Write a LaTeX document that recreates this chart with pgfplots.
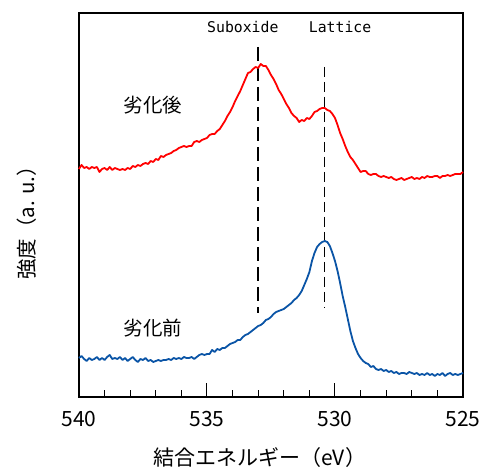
\documentclass[border=0pt]{standalone}
\usepackage{pgfplots}
\pgfplotsset{compat=1.18}
\usepackage{fontspec}
\setmainfont{Noto Sans CJK JP}
\newfontfamily\monofont{DejaVu Sans Mono}
\definecolor{redc}{RGB}{255,0,0}
\definecolor{bluec}{RGB}{10,84,166}
\begin{document}
\begin{tikzpicture}
\begin{axis}[
  scale only axis, width=384pt, height=384pt,
  xmin=525, xmax=540, ymin=0, ymax=384,
  x dir=reverse,
  axis line style={line width=1.3pt},
  xtick={525,530,535,540},
  minor x tick num=4,
  ytick=\empty,
  tick align=inside,
  xtick pos=bottom,
  major tick length=14pt, minor tick length=7pt,
  tick style={line width=1pt, black},
  /pgf/number format/assume math mode=true,
  /pgf/number format/1000 sep={},
  xticklabel style={font=\fontsize{21}{21}\selectfont, yshift=-11pt},
  xlabel={結合エネルギー（eV）},
  xlabel style={font=\fontsize{21}{21}\selectfont, at={(rel axis cs:0.471,0)}, anchor=center, yshift=-61pt},
  ylabel={強度（a. u.）},
  ylabel style={font=\fontsize{20.5}{21}\selectfont, at={(axis description cs:-0.135,0.466)}, anchor=center},
  clip=false,
]
% reference dashed lines
\addplot[black, line width=2.6pt, dash pattern=on 14pt off 6pt] coordinates {(533.0,350) (533.0,84)};
\addplot[black, line width=1pt, dash pattern=on 10pt off 5pt] coordinates {(530.4,330) (530.4,89)};
% after degradation
\addplot[redc, line width=1.8pt, line join=round] coordinates {
(540.0,228)(539.9,232)(539.8,229)(539.7,230)(539.6,228)(539.5,230)(539.4,229)(539.3,230)(539.2,225)(539.1,228)
(539.0,229)(538.9,227)(538.8,230)(538.7,227)(538.6,229)(538.5,228)(538.4,227)(538.3,228)(538.2,227)(538.1,229)
(538.0,228)(537.9,231)(537.8,230)(537.7,232)(537.6,231)(537.5,233)(537.4,234)(537.3,233)(537.2,236)(537.1,235)
(537.0,238)(536.9,237)(536.8,241)(536.7,240)(536.6,242)(536.5,243)(536.4,244)(536.3,246)(536.2,247)(536.1,249)
(536.0,250)(535.9,251)(535.8,250)(535.7,251)(535.6,251)(535.5,255)(535.4,256)(535.3,255)(535.2,257)(535.1,258)
(535.0,259)(534.9,262)(534.8,263)(534.7,263)(534.6,266)(534.5,268)(534.4,272)(534.3,276)(534.2,281)(534.1,285)
(534.0,290)(533.9,296)(533.8,301)(533.7,306)(533.6,312)(533.5,318)(533.4,324)(533.3,325)(533.2,328)(533.1,330)
(533.0,329)(532.9,333)(532.8,331)(532.7,331)(532.6,327)(532.5,322)(532.4,318)(532.3,313)(532.2,307)(532.1,303)
(532.0,298)(531.9,293)(531.8,289)(531.7,284)(531.6,281)(531.5,279)(531.4,275)(531.3,277)(531.2,276)(531.1,279)
(531.0,278)(530.9,281)(530.8,285)(530.7,286)(530.6,288)(530.5,289)(530.4,289)(530.3,287)(530.2,286)(530.1,283)
(530.0,279)(529.9,272)(529.8,264)(529.7,258)(529.6,251)(529.5,245)(529.4,240)(529.3,237)(529.2,233)(529.1,229)
(529.0,225)(528.9,226)(528.8,226)(528.7,223)(528.6,222)(528.5,223)(528.4,223)(528.3,221)(528.2,220)(528.1,221)
(528.0,220)(527.9,219)(527.8,220)(527.7,218)(527.6,217)(527.5,218)(527.4,219)(527.3,217)(527.2,218)(527.1,219)
(527.0,220)(526.9,218)(526.8,219)(526.7,218)(526.6,220)(526.5,219)(526.4,221)(526.3,220)(526.2,220)(526.1,221)
(526.0,221)(525.9,219)(525.8,221)(525.7,221)(525.6,222)(525.5,221)(525.4,222)(525.3,223)(525.2,223)(525.1,223)
(525.0,225)};
% before degradation
\addplot[bluec, line width=1.8pt, line join=round] coordinates {
(540.0,39)(539.9,41)(539.8,38)(539.7,36)(539.6,39)(539.5,37)(539.4,38)(539.3,40)(539.2,37)(539.1,39)
(539.0,37)(538.9,40)(538.8,42)(538.7,38)(538.6,39)(538.5,38)(538.4,40)(538.3,37)(538.2,39)(538.1,36)
(538.0,38)(537.9,40)(537.8,37)(537.7,35)(537.6,38)(537.5,37)(537.4,39)(537.3,36)(537.2,37)(537.1,35)
(537.0,36)(536.9,37)(536.8,36)(536.7,37)(536.6,37)(536.5,38)(536.4,37)(536.3,39)(536.2,38)(536.1,39)
(536.0,38)(535.9,40)(535.8,39)(535.7,39)(535.6,40)(535.5,38)(535.4,40)(535.3,42)(535.2,43)(535.1,42)
(535.0,43)(534.9,43)(534.8,47)(534.7,45)(534.6,48)(534.5,47)(534.4,49)(534.3,49)(534.2,51)(534.1,53)
(534.0,54)(533.9,55)(533.8,57)(533.7,57)(533.6,60)(533.5,62)(533.4,63)(533.3,65)(533.2,67)(533.1,69)
(533.0,71)(532.9,72)(532.8,74)(532.7,77)(532.6,78)(532.5,80)(532.4,83)(532.3,85)(532.2,86)(532.1,87)
(532.0,88)(531.9,90)(531.8,92)(531.7,94)(531.6,97)(531.5,99)(531.4,102)(531.3,106)(531.2,112)(531.1,118)
(531.0,125)(530.9,136)(530.8,144)(530.7,150)(530.6,153)(530.5,155)(530.4,156)(530.3,155)(530.2,151)(530.1,144)
(530.0,136)(529.9,126)(529.8,114)(529.7,101)(529.6,90)(529.5,78)(529.4,66)(529.3,56)(529.2,49)(529.1,43)
(529.0,39)(528.9,36)(528.8,34)(528.7,33)(528.6,30)(528.5,31)(528.4,28)(528.3,27)(528.2,28)(528.1,26)
(528.0,27)(527.9,25)(527.8,26)(527.7,24)(527.6,25)(527.5,23)(527.4,24)(527.3,24)(527.2,23)(527.1,25)
(527.0,24)(526.9,23)(526.8,24)(526.7,22)(526.6,23)(526.5,22)(526.4,24)(526.3,22)(526.2,23)(526.1,21)
(526.0,23)(525.9,22)(525.8,24)(525.7,21)(525.6,23)(525.5,24)(525.4,22)(525.3,23)(525.2,22)(525.1,23)
(525.0,24)};
\node[font=\fontsize{19.5}{20}\selectfont] at (axis cs:537.1,292) {劣化後};
\node[font=\fontsize{19.5}{20}\selectfont] at (axis cs:537.1,69) {劣化前};
\node[font=\monofont\fontsize{14.8}{15}\selectfont] at (axis cs:533.6,370) {Suboxide};
\node[font=\monofont\fontsize{14.8}{15}\selectfont] at (axis cs:529.8,370) {Lattice};
\end{axis}
\pgfresetboundingbox
\path (-79pt,-73pt) rectangle (404pt,397pt);
\end{tikzpicture}
\end{document}
